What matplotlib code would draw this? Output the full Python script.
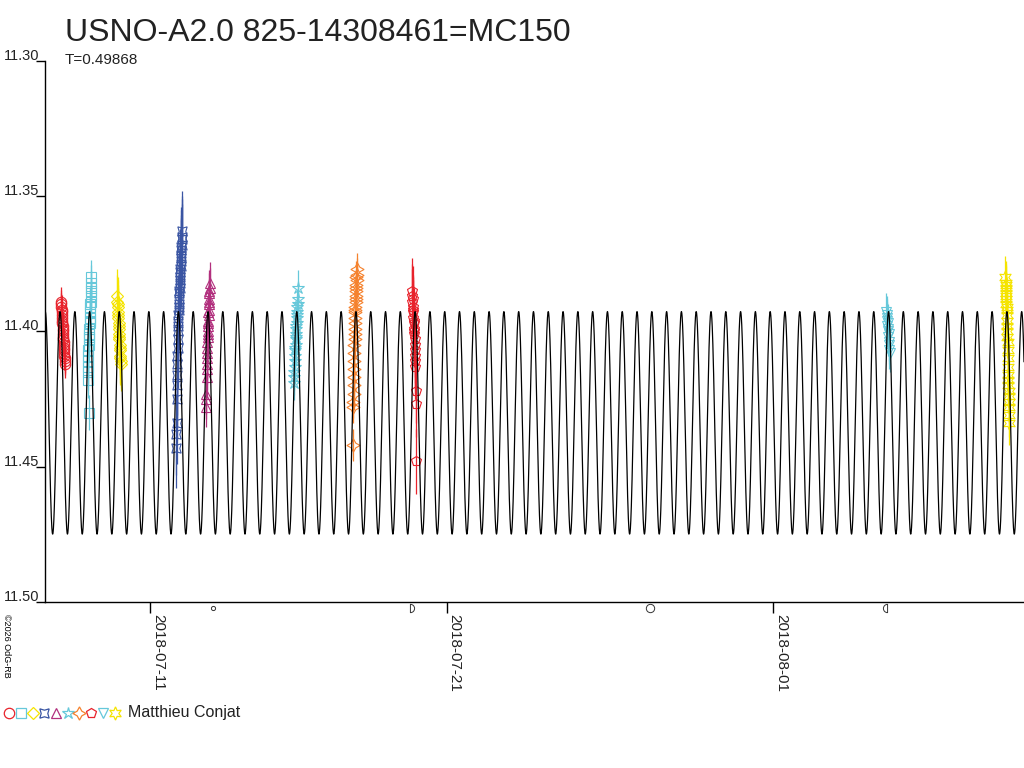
import matplotlib
matplotlib.use('Agg')
import matplotlib.pyplot as plt
import matplotlib.dates as mdates
from matplotlib.path import Path
import numpy as np
import pandas as pd

plt.rcParams['font.family'] = ['Liberation Sans', 'DejaVu Sans']

title = 'USNO-A2.0 825-14308461=MC150'
period = 0.49868
epoch = '2018-07-24 22:06'      # time of a light maximum of the model
mag_mean = 11.4338
mag_amp = 0.0411
x_range = ['2018-07-07 11:00', '2018-08-09 11:00']
y_ticks = [11.30, 11.35, 11.40, 11.45, 11.50]
x_ticks = ['2018-07-11', '2018-07-21', '2018-08-01']
observer = 'Matthieu Conjat'
credit = '\u00a92026 OdG-RB'

moon_dates = ['2018-07-13 02:48', '2018-07-19 19:52', '2018-07-27 20:20', '2018-08-04 18:18']
moon_phases = ['new', 'first', 'full', 'last']

# observing sessions
sess_start = ['2018-07-08 00:00', '2018-07-08 21:30', '2018-07-09 21:25', '2018-07-11 21:10',
              '2018-07-12 21:20', '2018-07-15 20:30', '2018-07-17 20:15', '2018-07-19 20:00',
              '2018-08-04 19:35', '2018-08-08 20:00']
sess_minutes = [
    [0, 8, 16, 24, 32, 40, 48, 56, 64, 72, 80, 88, 96, 104, 112, 120, 128, 136, 144, 152, 160, 168, 176, 184],
    [0, 8, 16, 24, 32, 40, 48, 56, 64, 72, 80, 88, 96, 104, 112, 120, 128, 136, 144, 152, 160, 168, 176, 184],
    [0, 9, 18, 27, 36, 45, 54, 63, 72, 81, 90, 99, 108, 117, 126, 135, 144, 153, 162, 171],
    [0, 8, 16, 24, 32, 40, 48, 56, 64, 72, 80, 88, 96, 104, 112, 120, 128, 136, 144, 152,
     160, 168, 176, 184, 192, 200, 208, 216, 224, 232, 240, 248, 256, 264, 272, 280],
    [0, 7, 14, 21, 28, 35, 42, 49, 56, 63, 70, 77, 84, 91, 98, 105, 112, 119, 126, 133, 140, 147, 154, 161, 168, 175],
    [0, 9, 18, 27, 36, 45, 54, 63, 72, 81, 90, 99, 108, 117, 126, 135, 144, 153, 162, 171, 180, 189],
    [0, 7, 14, 20, 27, 34, 41, 48, 54, 61, 68, 75, 82, 88, 95, 102, 109, 116, 122, 129, 136, 143, 150, 156, 163, 170, 177, 184],
    [0, 9, 18, 27, 36, 45, 54, 63, 72, 81, 90, 99, 108, 117, 126, 135, 144, 153, 162, 171, 180, 189],
    [0, 13, 26, 39, 52, 65, 78, 91, 104, 117, 130, 143, 156, 169],
    [0, 7, 14, 20, 27, 34, 41, 48, 54, 61, 68, 75, 82, 88, 95, 102, 109, 116, 122, 129, 136, 143, 150, 156, 163, 170, 177, 184],
]
sess_mags = [
    [11.389, 11.391, 11.390, 11.393, 11.392, 11.395, 11.394, 11.397, 11.396, 11.399, 11.398, 11.401,
     11.400, 11.403, 11.402, 11.405, 11.404, 11.407, 11.406, 11.409, 11.408, 11.410, 11.411, 11.412],
    [11.418, 11.415, 11.413, 11.411, 11.409, 11.407, 11.405, 11.402, 11.403, 11.430, 11.401, 11.399,
     11.396, 11.397, 11.395, 11.393, 11.390, 11.391, 11.389, 11.387, 11.384, 11.385, 11.382, 11.380],
    [11.387, 11.389, 11.391, 11.390, 11.393, 11.395, 11.394, 11.397, 11.399, 11.398, 11.401, 11.403,
     11.402, 11.405, 11.407, 11.406, 11.409, 11.410, 11.411, 11.412],
    [11.443, 11.438, 11.434, 11.425, 11.420, 11.416, 11.412, 11.409, 11.406, 11.403, 11.400, 11.398,
     11.396, 11.394, 11.391, 11.392, 11.390, 11.388, 11.385, 11.386, 11.384, 11.381, 11.382, 11.380,
     11.377, 11.378, 11.376, 11.373, 11.374, 11.372, 11.369, 11.370, 11.368, 11.366, 11.365, 11.363],
    [11.428, 11.425, 11.423, 11.417, 11.414, 11.412, 11.410, 11.408, 11.406, 11.404, 11.401, 11.402,
     11.400, 11.397, 11.398, 11.396, 11.393, 11.394, 11.392, 11.389, 11.390, 11.388, 11.385, 11.386,
     11.384, 11.382],
    [11.419, 11.417, 11.415, 11.413, 11.411, 11.409, 11.406, 11.407, 11.405, 11.402, 11.403, 11.401,
     11.398, 11.399, 11.397, 11.394, 11.395, 11.393, 11.391, 11.390, 11.388, 11.384],
    [11.442, 11.428, 11.426, 11.423, 11.420, 11.417, 11.414, 11.411, 11.408, 11.405, 11.403, 11.401,
     11.399, 11.397, 11.395, 11.392, 11.393, 11.391, 11.388, 11.389, 11.387, 11.384, 11.385, 11.383,
     11.380, 11.381, 11.379, 11.377],
    [11.385, 11.387, 11.389, 11.388, 11.391, 11.393, 11.392, 11.395, 11.397, 11.396, 11.399, 11.401,
     11.400, 11.403, 11.405, 11.407, 11.409, 11.411, 11.413, 11.422, 11.427, 11.448],
    [11.393, 11.394, 11.396, 11.395, 11.398, 11.397, 11.400, 11.399, 11.402, 11.401, 11.404, 11.405,
     11.407, 11.408],
    [11.380, 11.382, 11.384, 11.383, 11.386, 11.388, 11.387, 11.390, 11.392, 11.391, 11.394, 11.396,
     11.398, 11.400, 11.402, 11.404, 11.407, 11.410, 11.413, 11.416, 11.418, 11.420, 11.422, 11.424,
     11.426, 11.428, 11.431, 11.434],
]
sess_err = [0.0053, 0.0065, 0.0100, 0.0150, 0.0075, 0.0065, 0.0060, 0.0120, 0.0070, 0.0080]

sess_marker = ['o', 's', 'D', (4, 1, 45), '^', '*', (4, 1, 0), 'p', 'v', (6, 1, 0)]
sess_msize = [7.5, 6.8, 6.0, 9.5, 7.5, 9.0, 9.5, 7.8, 7.5, 9.5]
sess_color = ['#e8222b', '#66c8da', '#f5e400', '#3a55a3', '#b2307e',
              '#66c8da', '#f5822e', '#e8222b', '#66c8da', '#f5e400']


def num(s):
    return mdates.date2num(pd.to_datetime(s).to_pydatetime())


def half_disc(side):
    arc = Path.arc(-90, 90)
    v = np.vstack([arc.vertices, arc.vertices[:1]])
    v[:, 0] = v[:, 0] - 0.5
    if side == 'left':
        v[:, 0] = -v[:, 0]
    codes = list(arc.codes) + [Path.LINETO]
    return Path(v, codes)


W, H = 1024, 768
fig = plt.figure(figsize=(W / 100, H / 100), dpi=100)
ax = fig.add_axes([45 / W, (H - 602) / H, (W - 45) / W, (602 - 60.7) / H])

x0, x1 = num(x_range[0]), num(x_range[1])

# observations
for i in range(len(sess_start)):
    t = num(sess_start[i]) + np.array(sess_minutes[i]) / 1440.0
    m = np.array(sess_mags[i])
    ax.errorbar(t, m, yerr=sess_err[i], fmt='none', ecolor=sess_color[i],
                elinewidth=0.9, zorder=2)
    ax.plot(t, m, linestyle='none', marker=sess_marker[i], markersize=sess_msize[i],
            markerfacecolor='none', markeredgecolor=sess_color[i],
            markeredgewidth=0.8, zorder=2)

# light curve model
tt = np.linspace(x0, x1, 40000)
model = mag_mean - mag_amp * np.cos(2 * np.pi * (tt - num(epoch)) / period)
ax.plot(tt, model, color='black', linewidth=0.9, zorder=3)

ax.set_xlim(x0, x1)
ax.set_ylim(y_ticks[-1], y_ticks[0])
for s in ['top', 'right']:
    ax.spines[s].set_visible(False)
for s in ['left', 'bottom']:
    ax.spines[s].set_linewidth(1.0)

ax.set_yticks(y_ticks)
ax.set_yticklabels([])
ax.tick_params(axis='y', direction='out', length=6.5, width=1.0)
for v in y_ticks:
    ax.annotate('%.2f' % v, xy=(0, v), xycoords=('axes fraction', 'data'),
                xytext=(-6, 1), textcoords='offset pixels',
                ha='right', va='baseline', fontsize=10.5, color='#222222')

xt = [num(d) for d in x_ticks]
ax.set_xticks(xt)
ax.set_xticklabels([])
ax.tick_params(axis='x', direction='out', length=8, width=1.0)
for d, v in zip(x_ticks, xt):
    ax.annotate(d, xy=(v, 0), xycoords=('data', 'axes fraction'),
                xytext=(1, -12), textcoords='offset pixels', rotation=-90,
                ha='left', va='top', fontsize=11, color='#222222')

# moon phases under the axis
moon_style = {'new': ('o', 3.0), 'first': (half_disc('right'), 6.0),
              'full': ('o', 6.0), 'last': (half_disc('left'), 6.0)}
for d, ph in zip(moon_dates, moon_phases):
    mk, ms = moon_style[ph]
    ax.plot([num(d)], [-0.011], transform=ax.get_xaxis_transform(), clip_on=False,
            marker=mk, markersize=ms, markerfacecolor='none',
            markeredgecolor='#333333', markeredgewidth=0.7, linestyle='none')

fig.text(65 / W, 1 - 41 / H, title, fontsize=23, va='baseline', color='#222222')
fig.text(65 / W, 1 - 63.5 / H, 'T=%.5f' % period, fontsize=11, va='baseline', color='#222222')
fig.text(2 / W, 1 - 614 / H, credit, rotation=-90, fontsize=6.5, ha='left', va='top')

# observer legend
leg = fig.add_axes([0, 0, 1, 1], facecolor='none')
leg.set_xlim(0, W)
leg.set_ylim(H, 0)
leg.axis('off')
for i in range(len(sess_marker)):
    leg.plot([9.3 + 11.7 * i], [713], marker=sess_marker[i], markersize=sess_msize[i],
             markerfacecolor='none', markeredgecolor=sess_color[i],
             markeredgewidth=0.9, linestyle='none')
leg.text(127.7, 713, observer, fontsize=11.5, va='center', ha='left', color='#222222')

fig.savefig('out.png', dpi=100)
